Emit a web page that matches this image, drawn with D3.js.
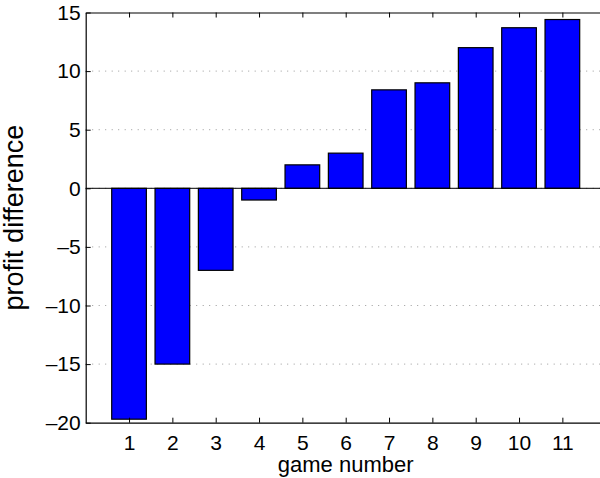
<!DOCTYPE html>
<html>
<head>
<meta charset="utf-8">
<script src="https://cdn.jsdelivr.net/npm/d3@7"></script>
<style>
  html, body { margin: 0; padding: 0; background: #fff; }
  svg { display: block; }
  text { font-family: "Liberation Sans", Arial, Helvetica, sans-serif; fill: #000; }
</style>
</head>
<body>
<svg id="chart" width="600" height="478"></svg>
<script>
// ---- data ----
const games = [1, 2, 3, 4, 5, 6, 7, 8, 9, 10, 11];
const profitDiff = [-19.7, -15, -7, -1, 2, 3, 8.4, 9, 12, 13.7, 14.4];
const yTicks = [-20, -15, -10, -5, 0, 5, 10, 15];
const xTicks = [1, 2, 3, 4, 5, 6, 7, 8, 9, 10, 11];
const xLabel = "game number";
const yLabel = "profit difference";

// ---- layout ----
const W = 600, H = 478;
const mLeft = 85.7, mTop = 12.5, plotW = 520, plotH = 410.2;

const svg = d3.select("#chart");
const g = svg.append("g").attr("transform", `translate(${mLeft},${mTop})`);

const x = d3.scaleLinear().domain([0, 12]).range([0, plotW]);
const y = d3.scaleLinear().domain([-20, 15]).range([plotH, 0]);
const barW = 0.8;

// grid
g.append("g").selectAll("line")
  .data(yTicks.filter(t => t > -20 && t < 15))
  .join("line")
  .attr("x1", 0).attr("x2", plotW)
  .attr("y1", d => y(d)).attr("y2", d => y(d))
  .attr("stroke", "#999").attr("stroke-width", 1)
  .attr("stroke-dasharray", "1,5.5");

// bars
g.append("g").selectAll("rect")
  .data(games.map((gm, i) => ({ gm, v: profitDiff[i] })))
  .join("rect")
  .attr("x", d => x(d.gm - barW / 2))
  .attr("width", d => x(d.gm + barW / 2) - x(d.gm - barW / 2))
  .attr("y", d => y(Math.max(0, d.v)))
  .attr("height", d => Math.abs(y(d.v) - y(0)))
  .attr("fill", "#0000ff")
  .attr("stroke", "#000").attr("stroke-width", 1.2);

// baseline
g.append("line")
  .attr("x1", 0).attr("x2", plotW)
  .attr("y1", y(0)).attr("y2", y(0))
  .attr("stroke", "#000").attr("stroke-width", 1);

const fmt = d => d < 0 ? "\u2013" + (-d) : String(d);

// left axis
const yAxis = g.append("g")
  .call(d3.axisLeft(y).tickValues(yTicks).tickFormat(fmt)
    .tickSizeInner(-5).tickSizeOuter(0).tickPadding(5));
// bottom axis
const xAxis = g.append("g").attr("transform", `translate(0,${plotH})`)
  .call(d3.axisBottom(x).tickValues(xTicks).tickFormat(d => d)
    .tickSizeInner(-5).tickSizeOuter(0).tickPadding(12));
// top axis
const tAxis = g.append("g")
  .call(d3.axisTop(x).tickValues(xTicks).tickFormat("")
    .tickSizeInner(-5).tickSizeOuter(0));

[yAxis, xAxis, tAxis].forEach(a => {
  a.selectAll("path.domain").attr("stroke", "#000").attr("stroke-width", 1.2);
  a.selectAll(".tick line").attr("stroke", "#000").attr("stroke-width", 1);
  a.selectAll("text").attr("font-size", 21)
    .attr("font-family", '"Liberation Sans", Arial, Helvetica, sans-serif')
    .attr("fill", "#000");
});

// axis labels
svg.append("text")
  .attr("x", mLeft + plotW / 2).attr("y", 472)
  .attr("text-anchor", "middle")
  .attr("font-size", 22)
  .text(xLabel);

svg.append("text")
  .attr("transform", `translate(23,${mTop + plotH / 2}) rotate(-90)`)
  .attr("text-anchor", "middle")
  .attr("font-size", 27)
  .text(yLabel);
</script>
</body>
</html>
